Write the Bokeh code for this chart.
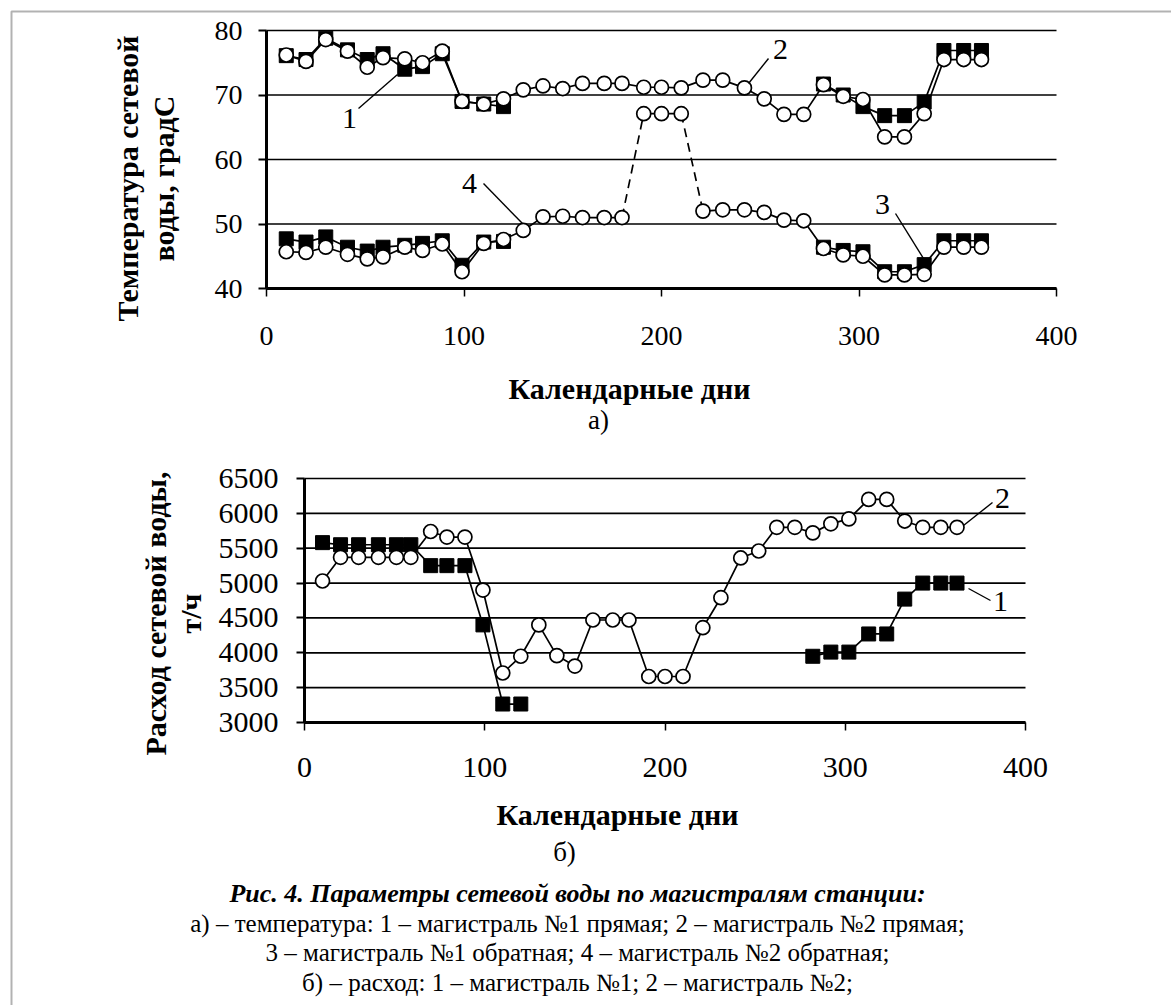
import math
from bokeh.plotting import figure
from bokeh.models import Label, FixedTicker, LinearAxis, Range1d, BoxAnnotation
from bokeh.embed import file_html
from bokeh.resources import INLINE

nan = float("nan")

# ---------------- data ----------------
days = [10, 20, 30, 41, 51, 59, 70, 79, 89, 99, 110, 120, 130, 140, 150, 160, 171, 180,
        191, 200, 210, 221, 231, 242, 252, 262, 272, 282, 292, 302, 313, 323, 333, 343, 353, 362]

# a) temperature, degC
temp_m1_direct = [76.1, 75.5, 78.8, 77.0, 75.5, 76.4, 74.0, 74.4, 76.4, 69.0, 68.6, 68.2,
                  nan, nan, nan, nan, nan, nan, nan, nan, nan, nan, nan, nan, nan, nan, nan,
                  71.7, 70.0, 68.2, 66.8, 66.8, 68.9, 76.9, 76.9, 76.9]
temp_m2_direct = [76.2, 75.2, 78.6, 76.8, 74.3, 75.8, 75.6, 75.0, 76.8, 69.0, 68.6, 69.4,
                  70.8, 71.4, 71.0, 71.8, 71.8, 71.8, 71.2, 71.2, 71.1, 72.3, 72.3, 71.1,
                  69.4, 67.0, 67.0, 71.6, 69.8, 69.3, 63.5, 63.5, 67.1, 75.5, 75.5, 75.5]
temp_m1_return = [47.7, 47.2, 48.0, 46.4, 45.8, 46.4, 46.7, 47.0, 47.4, 43.6, 47.2, 47.3,
                  nan, nan, nan, nan, nan, nan, nan, nan, nan, nan, nan, nan, nan, nan, nan,
                  46.4, 45.9, 45.7, 42.6, 42.6, 43.7, 47.4, 47.4, 47.4]
temp_m2_return = [45.7, 45.6, 46.4, 45.3, 44.6, 44.9, 46.4, 45.9, 46.9, 42.6, 47.0, 47.6,
                  49.0, 51.1, 51.2, 51.0, 51.0, 51.0, 67.1, 67.1, 67.1, 52.0, 52.2, 52.2,
                  51.8, 50.6, 50.5, 46.2, 45.2, 45.0, 42.1, 42.1, 42.2, 46.4, 46.4, 46.4]

# b) flow, t/h
flow_m1 = [5580, 5550, 5550, 5550, 5550, 5550, 5250, 5250, 5250, 4400, 3265, 3265,
           nan, nan, nan, nan, nan, nan, nan, nan, nan, nan, nan, nan, nan, nan, nan,
           3950, 4010, 4010, 4270, 4270, 4770, 5000, 5000, 5000]
flow_m2 = [5030, 5370, 5370, 5370, 5370, 5370, 5740, 5660, 5660, 4900, 3710, 3950,
           4400, 3960, 3810, 4470, 4470, 4470, 3660, 3660, 3660, 4360, 4790, 5360,
           5460, 5800, 5800, 5720, 5850, 5920, 6200, 6200, 5890, 5800, 5800, 5800]

x_ticks = [0, 100, 200, 300, 400]
temp_ticks = [40, 50, 60, 70, 80]
flow_ticks = [3000, 3500, 4000, 4500, 5000, 5500, 6000, 6500]

# dashed jumps in series 4 (indices of the points they join)
dashed_pairs = [(17, 18), (20, 21)]

FONT = "Liberation Serif"
W, H = 1171, 1005

# ---------------- page canvas: default ranges are page pixels ----------------
p = figure(width=W, height=H, x_range=Range1d(0, W), y_range=Range1d(H, 0),
           x_axis_location=None, y_axis_location=None, min_border=0,
           output_backend="svg", toolbar_location=None)
p.outline_line_color = None
p.background_fill_color = "white"
p.border_fill_color = "white"
p.grid.visible = False

# panel frames on the page (pixels)
A = dict(l=266, r=1056, t=30, b=288)   # chart a)
B = dict(l=304, r=1025, t=478, b=722)  # chart b)


def add_chart(name, box, yticks):
    x0, x1 = x_ticks[0], x_ticks[-1]
    y0, y1 = yticks[0], yticks[-1]
    kx = (x1 - x0) / (box["r"] - box["l"])
    ky = (y1 - y0) / (box["b"] - box["t"])
    p.extra_x_ranges[name + "x"] = Range1d(x0 - box["l"] * kx, x0 + (W - box["l"]) * kx)
    p.extra_y_ranges[name + "y"] = Range1d(y1 - (H - box["t"]) * ky, y1 + box["t"] * ky)
    return name + "x", name + "y"


def style_axis(ax, size, standoff, tick_w):
    ax.axis_line_color = "black"
    ax.axis_line_width = 3
    ax.major_tick_line_color = "black"
    ax.major_tick_line_width = tick_w
    ax.major_tick_in = 0
    ax.major_tick_out = 8
    ax.minor_tick_line_color = None
    ax.major_label_text_font = FONT
    ax.major_label_text_font_size = size
    ax.major_label_text_color = "black"
    ax.major_label_standoff = standoff


def axes_and_grid(xr, yr, yticks, size, xstand, ystand):
    yax = LinearAxis(x_range_name=xr, y_range_name=yr, fixed_location=x_ticks[0],
                     bounds=(yticks[0], yticks[-1]), ticker=FixedTicker(ticks=yticks))
    xax = LinearAxis(x_range_name=xr, y_range_name=yr, fixed_location=yticks[0],
                     bounds=(x_ticks[0], x_ticks[-1]), ticker=FixedTicker(ticks=x_ticks))
    style_axis(yax, size, ystand, 2)
    style_axis(xax, size, xstand, 1.5)
    n = len(yticks)
    p.segment(x0=[x_ticks[0]] * n, x1=[x_ticks[-1]] * n, y0=yticks, y1=yticks,
              line_color="black", line_width=1.7, x_range_name=xr, y_range_name=yr)
    p.add_layout(yax, "left")
    p.add_layout(xax, "below")


def series(xr, yr, x, y, marker, dashed=None):
    kw = dict(x_range_name=xr, y_range_name=yr)
    if marker == "square":
        p.line(x, y, line_color="black", line_width=1.7, **kw)
        p.scatter(x, y, marker="square", size=14, fill_color="black", line_color="black", **kw)
    else:
        if dashed:
            cuts = [0] + [b for a, b in dashed] + [len(x)]
            for s, e in zip(cuts[:-1], cuts[1:]):
                p.line(x[s:e], y[s:e], line_color="black", line_width=1.7, **kw)
            for a, b in dashed:
                p.line([x[a], x[b]], [y[a], y[b]], line_color="black", line_width=1.7,
                       line_dash="9 6", **kw)
        else:
            p.line(x, y, line_color="black", line_width=1.7, **kw)
        p.scatter(x, y, marker="circle", size=14, fill_color="white", line_color="black",
                  line_width=1.7, **kw)


def lab(x, y, text, size, style_="normal", angle=0.0):
    p.add_layout(Label(x=x, y=y, text=text, text_font=FONT, text_font_size=size,
                       text_font_style=style_, text_align="center", text_baseline="middle",
                       angle=angle, text_color="black"))


# page frame (top and left edges visible)
p.add_layout(BoxAnnotation(left=11, right=W + 50, top=11, bottom=H + 50, fill_alpha=0,
                           line_color="black", line_width=2))

# ---------------- chart a) ----------------
axr, ayr = add_chart("a", A, temp_ticks)
axes_and_grid(axr, ayr, temp_ticks, "28px", 30, 16)
series(axr, ayr, days, temp_m1_direct, "square")
series(axr, ayr, days, temp_m2_direct, "circle")
series(axr, ayr, days, temp_m1_return, "square")
series(axr, ayr, days, temp_m2_return, "circle", dashed=dashed_pairs)

# leader lines (page pixels) and curve numbers
p.segment(x0=[358, 768, 483, 895], y0=[108, 58, 183, 213],
          x1=[397, 748, 522, 923], y1=[74, 83, 223, 258], line_color="black", line_width=1.4)
lab(349, 118, "1", "30px")
lab(780, 49, "2", "30px")
lab(882, 204, "3", "30px")
lab(469, 183, "4", "30px")

lab(127, 178, "Температура сетевой", "30px", "bold", math.pi / 2)
lab(163, 178, "воды, градС", "30px", "bold", math.pi / 2)
lab(629, 388, "Календарные дни", "30px", "bold")
lab(598, 419, "а)", "27px")

# ---------------- chart b) ----------------
bxr, byr = add_chart("b", B, flow_ticks)
axes_and_grid(bxr, byr, flow_ticks, "30px", 27, 18)
series(bxr, byr, days, flow_m1, "square")
series(bxr, byr, days, flow_m2, "circle")

p.segment(x0=[963, 968], y0=[525, 588], x1=[992, 990], y1=[502, 600],
          line_color="black", line_width=1.4)
lab(1002, 498, "2", "30px")
lab(1000, 601, "1", "30px")

lab(155, 613, "Расход сетевой воды,", "30px", "bold", math.pi / 2)
lab(190, 613, "т/ч", "30px", "bold", math.pi / 2)
lab(617, 814, "Календарные дни", "30px", "bold")
lab(564, 851, "б)", "27px")

lab(577, 893, "Рис. 4. Параметры сетевой воды по магистралям станции:", "26px", "bold italic")
lab(577, 923, "а) – температура: 1 – магистраль №1 прямая; 2 – магистраль №2 прямая;", "25px")
lab(577, 952, "3 – магистраль №1 обратная; 4 – магистраль №2 обратная;", "25px")
lab(577, 982, "б) – расход: 1 – магистраль №1; 2 – магистраль №2;", "25px")

open("out.html", "w").write(file_html(p, INLINE))
